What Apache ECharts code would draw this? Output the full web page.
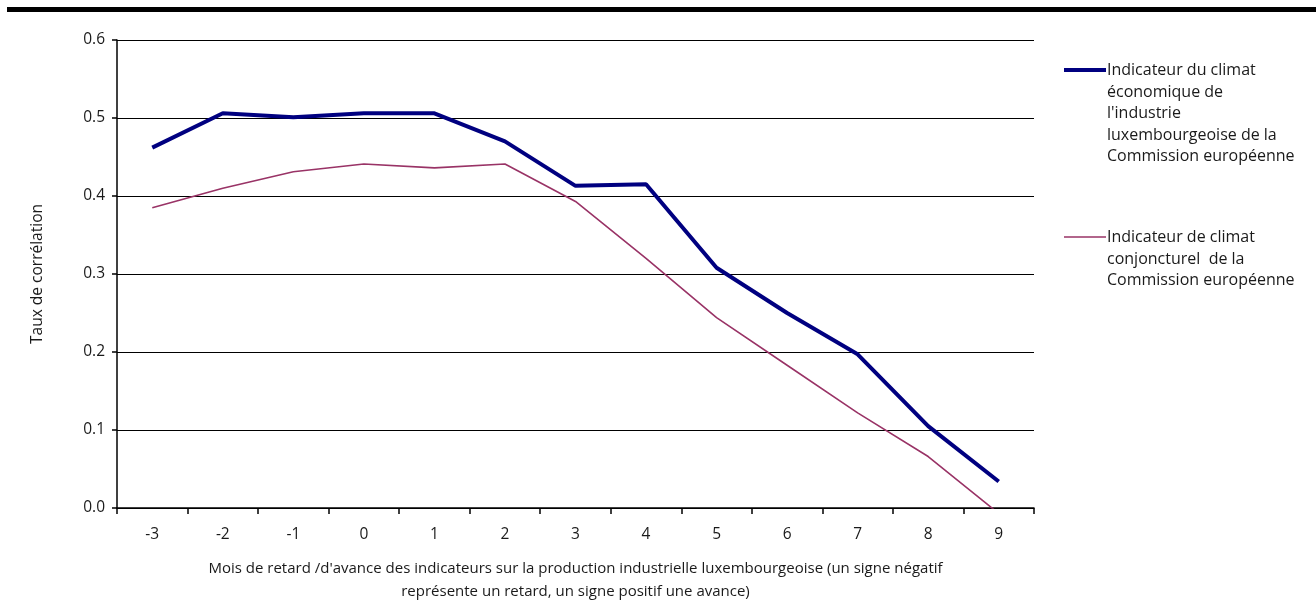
<!DOCTYPE html>
<html>
<head>
<meta charset="utf-8">
<script src="https://cdn.jsdelivr.net/npm/echarts@6/dist/echarts.min.js"></script>
<style>html,body{margin:0;padding:0;background:#fff}#c{width:1316px;height:603px}</style>
</head>
<body>
<div id="c"></div>
<script>
var categories = ['-3','-2','-1','0','1','2','3','4','5','6','7','8','9'];
var seriesBlue = [0.462, 0.506, 0.501, 0.506, 0.506, 0.470, 0.413, 0.415, 0.308, 0.250, 0.197, 0.105, 0.034];
var seriesPurple = [0.385, 0.410, 0.431, 0.441, 0.436, 0.441, 0.393, 0.320, 0.244, 0.183, 0.122, 0.066, -0.007];
var nameBlue = 'Indicateur du climat\néconomique de\nl\'industrie\nluxembourgeoise de la\nCommission européenne';
var namePurple = 'Indicateur de climat\nconjoncturel  de la\nCommission européenne';
var yTicks = ['0.0','0.1','0.2','0.3','0.4','0.5','0.6'];
var FONT = '"Open Sans", "DejaVu Sans", sans-serif';

var chart = echarts.init(document.getElementById('c'));
chart.setOption({
  animation: false,
  backgroundColor: '#fff',
  grid: {left: 117, right: 282, top: 40, bottom: 95, containLabel: false, outerBoundsMode: 'none'},
  xAxis: {
    type: 'category',
    data: categories,
    boundaryGap: true,
    axisLine: {lineStyle: {color: '#000', width: 1.5}},
    axisTick: {show: true, length: 6, interval: 0, lineStyle: {color: '#000', width: 1.5}},
    axisLabel: {color: '#1a1a1a', fontSize: 15.5, fontFamily: FONT, margin: 19},
    name: 'Mois de retard /d\'avance des indicateurs sur la production industrielle luxembourgeoise (un signe négatif\nreprésente un retard, un signe positif une avance)',
    nameLocation: 'middle',
    nameGap: 49,
    nameTextStyle: {color: '#1a1a1a', fontSize: 15, fontFamily: FONT, lineHeight: 23}
  },
  yAxis: {
    type: 'value',
    min: 0, max: 0.6, interval: 0.1,
    axisLine: {show: true, lineStyle: {color: '#000', width: 1.5}},
    axisTick: {show: true, length: 5, lineStyle: {color: '#000', width: 1.5}},
    splitLine: {show: true, lineStyle: {color: '#000', width: 1.2}},
    axisLabel: {color: '#1a1a1a', fontSize: 15.5, fontFamily: FONT, margin: 12,
      formatter: function (v) { return yTicks[Math.round(v * 10)]; }},
    name: 'Taux de corrélation',
    nameLocation: 'middle',
    nameGap: 71,
    nameRotate: 90,
    nameTextStyle: {color: '#1a1a1a', fontSize: 15.5, fontFamily: FONT}
  },
  series: [
    {name: nameBlue, type: 'line', data: seriesBlue, symbol: 'none',
     lineStyle: {color: '#000080', width: 4}, itemStyle: {color: '#000080'}, z: 3},
    {name: namePurple, type: 'line', data: seriesPurple, symbol: 'none',
     lineStyle: {color: '#993366', width: 1.6}, itemStyle: {color: '#993366'}, z: 2}
  ],
  graphic: [
    {type: 'rect', shape: {x: 7, y: 7, width: 1309, height: 5}, style: {fill: '#000'}},
    {type: 'line', shape: {x1: 1064, y1: 70, x2: 1106, y2: 70}, style: {stroke: '#000080', lineWidth: 4}},
    {type: 'text', x: 1107, y: 60, style: {text: nameBlue, fill: '#1a1a1a', font: '16px ' + FONT, lineHeight: 21.5}},
    {type: 'line', shape: {x1: 1064, y1: 237, x2: 1106, y2: 237}, style: {stroke: '#993366', lineWidth: 1.6}},
    {type: 'text', x: 1107, y: 227, style: {text: namePurple, fill: '#1a1a1a', font: '16px ' + FONT, lineHeight: 21.5}}
  ]
});
</script>
</body>
</html>
